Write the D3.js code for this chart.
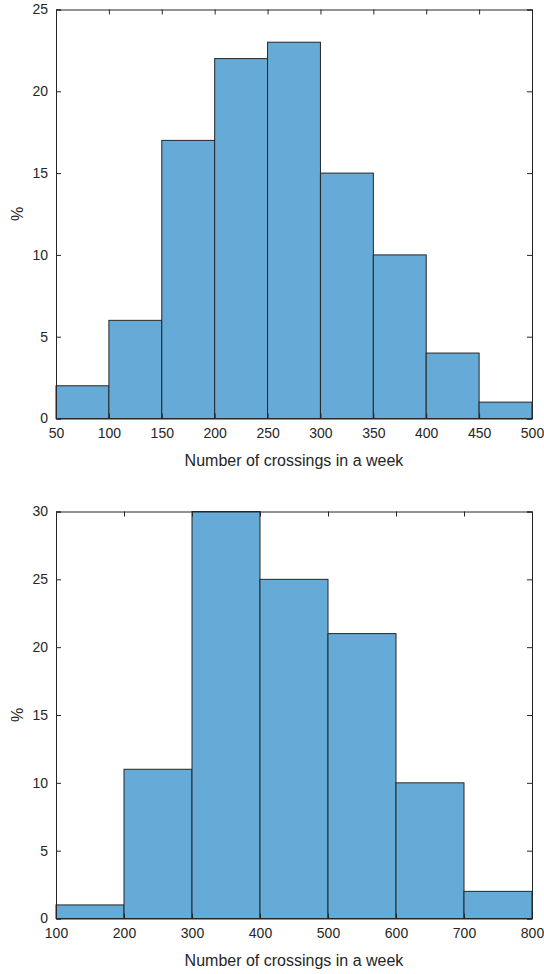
<!DOCTYPE html>
<html>
<head>
<meta charset="utf-8">
<script src="https://cdn.jsdelivr.net/npm/d3@7"></script>
<style>
  body { margin: 0; background: #fff; }
  svg text { font-family: "Liberation Sans", Arial, Helvetica, sans-serif; fill: #262626; }
</style>
</head>
<body>
<div id="chart"></div>
<script>
// Top histogram: bin edges and percentages
var edgesTop = [50, 100, 150, 200, 250, 300, 350, 400, 450, 500];
var pctTop = [2, 6, 17, 22, 23, 15, 10, 4, 1];
var xTicksTop = [50, 100, 150, 200, 250, 300, 350, 400, 450, 500];
var yTicksTop = [0, 5, 10, 15, 20, 25];

// Bottom histogram
var edgesBottom = [100, 200, 300, 400, 500, 600, 700, 800];
var pctBottom = [1, 11, 30, 25, 21, 10, 2];
var xTicksBottom = [100, 200, 300, 400, 500, 600, 700, 800];
var yTicksBottom = [0, 5, 10, 15, 20, 25, 30];

var xLabel = "Number of crossings in a week";
var yLabel = "%";

var svg = d3.select("#chart").append("svg")
    .attr("width", 544)
    .attr("height", 974);

function drawHist(top, bottom, edges, pct, xTicks, yTicks) {
    var left = 56, right = 532;
    var x = d3.scaleLinear().domain([edges[0], edges[edges.length - 1]]).range([left, right]);
    var y = d3.scaleLinear().domain([0, yTicks[yTicks.length - 1]]).range([bottom, top]);
    var g = svg.append("g");

    var bins = pct.map(function (v, i) { return { x0: edges[i], x1: edges[i + 1], v: v }; });

    // bars
    g.selectAll("rect.bar")
        .data(bins)
        .enter()
        .append("rect")
        .attr("class", "bar")
        .attr("x", function (d) { return x(d.x0); })
        .attr("y", function (d) { return y(d.v); })
        .attr("width", function (d) { return x(d.x1) - x(d.x0); })
        .attr("height", function (d) { return y(0) - y(d.v); })
        .style("fill", "#66aad7")
        .style("stroke", "#262626")
        .style("stroke-width", 1);

    // axes with inward ticks (box style)
    var tickLen = 5;
    var axB = d3.axisBottom(x).tickValues(xTicks).tickSize(-tickLen).tickPadding(10).tickFormat(d3.format("d"));
    var axT = d3.axisTop(x).tickValues(xTicks).tickSize(-tickLen).tickFormat("");
    var axL = d3.axisLeft(y).tickValues(yTicks).tickSize(-tickLen).tickPadding(8).tickFormat(d3.format("d"));
    var axR = d3.axisRight(y).tickValues(yTicks).tickSize(-tickLen).tickFormat("");

    var gb = g.append("g").attr("transform", "translate(0," + bottom + ")").call(axB);
    var gt = g.append("g").attr("transform", "translate(0," + top + ")").call(axT);
    var gl = g.append("g").attr("transform", "translate(" + left + ",0)").call(axL);
    var gr = g.append("g").attr("transform", "translate(" + right + ",0)").call(axR);

    [gb, gt, gl, gr].forEach(function (a) {
        a.select(".domain").attr("stroke", "#262626");
        a.selectAll(".tick line").attr("stroke", "#262626");
        a.selectAll("text").style("font-size", "14px").attr("fill", "#262626");
    });

    // axis labels
    g.append("text")
        .attr("x", (left + right) / 2)
        .attr("y", bottom + 47)
        .attr("text-anchor", "middle")
        .style("font-size", "16px")
        .text(xLabel);

    g.append("text")
        .attr("transform", "translate(23," + ((top + bottom) / 2) + ") rotate(-90)")
        .attr("text-anchor", "middle")
        .style("font-size", "16px")
        .text(yLabel);
}

drawHist(9.5, 418.5, edgesTop, pctTop, xTicksTop, yTicksTop);
drawHist(511.5, 918.5, edgesBottom, pctBottom, xTicksBottom, yTicksBottom);
</script>
</body>
</html>
